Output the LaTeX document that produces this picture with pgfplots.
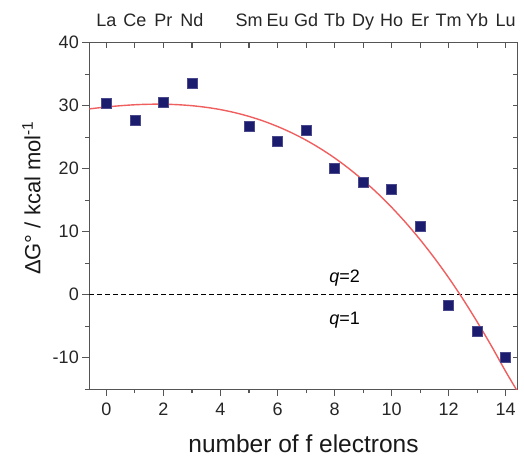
\documentclass[border=0pt]{standalone}
\usepackage{fontspec}
\setmainfont{Liberation Sans}
\usepackage{pgfplots}
\pgfplotsset{compat=1.18}
\definecolor{axgray}{RGB}{85,85,85}
\definecolor{navyq}{RGB}{28,28,110}
\definecolor{fitred}{RGB}{240,95,95}
\begin{document}
\begin{tikzpicture}
\path[use as bounding box] (-89.3pt,-67.8pt) rectangle (434.7pt,389.2pt);
\pgfplotsset{
  common/.style={
    scale only axis, width=428.4pt, height=346.5pt,
    xmin=-0.6, xmax=14.42, ymin=-15, ymax=40,
    axis line style={axgray, line width=1.3pt},
    every tick/.style={axgray, line width=1.1pt},
    ticklabel style={font=\fontsize{18}{20}\selectfont, text=black!85},
    /pgf/number format/assume math mode=true,
  }
}
% top and right axis (inside ticks, element labels)
\begin{axis}[common,
  axis x line*=top, axis y line*=right,
  tick align=inside,
  xtick={0,1,...,14},
  xticklabels={La,Ce,Pr,Nd,,Sm,Eu,Gd,Tb,Dy,Ho,Er,Tm,Yb,Lu},
  ytick={-15,-10,...,40}, yticklabels={},
  major tick length=5pt,
  xticklabel style={anchor=base, yshift=16.5pt},
]
\addplot[draw=none] coordinates {(0,0)};
\end{axis}
% main axis
\begin{axis}[common,
  axis x line*=bottom, axis y line*=left,
  tick align=outside,
  xtick={0,2,...,14}, minor xtick={1,3,...,13},
  ytick={-10,0,...,40}, minor ytick={-15,-5,...,35},
  major tick length=7pt, minor tick length=4pt,
  xticklabel style={yshift=-3pt},
  xlabel={number of f electrons},
  ylabel={ΔG° / kcal mol\textsuperscript{-1}},
  label style={text=black!90},
  xlabel style={font=\fontsize{24.5}{27}\selectfont, at={(axis description cs:0.5,-0.158)}, anchor=center},
  ylabel style={font=\fontsize{22}{25}\selectfont, at={(axis description cs:-0.135,0.552)}, anchor=center},
  clip=true,
]
\addplot[black, line width=1.2pt, dash pattern=on 4.5pt off 3.5pt] coordinates {(-0.6,0) (14.42,0)};
\addplot[fitred, line width=1.4pt, smooth] coordinates {
(-0.6,29.49) (0,29.80) (0.5,30.00) (1,30.15) (1.5,30.23) (2,30.24) (2.5,30.16)
(3,30.00) (3.5,29.74) (4,29.38) (4.5,28.90) (5,28.30) (5.5,27.57) (6,26.70)
(6.5,25.69) (7,24.53) (7.5,23.20) (8,21.71) (8.5,20.03) (9,18.17) (9.5,16.12)
(10,13.87) (10.5,11.41) (11,8.73) (11.5,5.82) (12,2.69) (12.5,-0.69)
(13,-4.32) (13.5,-8.15) (14,-12.2) (14.42,-15.4)};
\addplot[only marks, mark=square*, mark size=5pt, mark options={fill=navyq, draw=navyq!80!white, line width=0.5pt}] coordinates {
(0,30.4) (1,27.7) (2,30.6) (3,33.55) (5,26.8) (6,24.3) (7,26.1) (8,20.0)
(9,17.9) (10,16.7) (11,10.9) (12,-1.7) (13,-5.8) (14,-9.9)};
\node[font=\fontsize{18}{20}\selectfont] at (axis cs:8.35,2.65) {\textit{q}=2};
\node[font=\fontsize{18}{20}\selectfont] at (axis cs:8.35,-4.0) {\textit{q}=1};
\end{axis}
\end{tikzpicture}
\end{document}
